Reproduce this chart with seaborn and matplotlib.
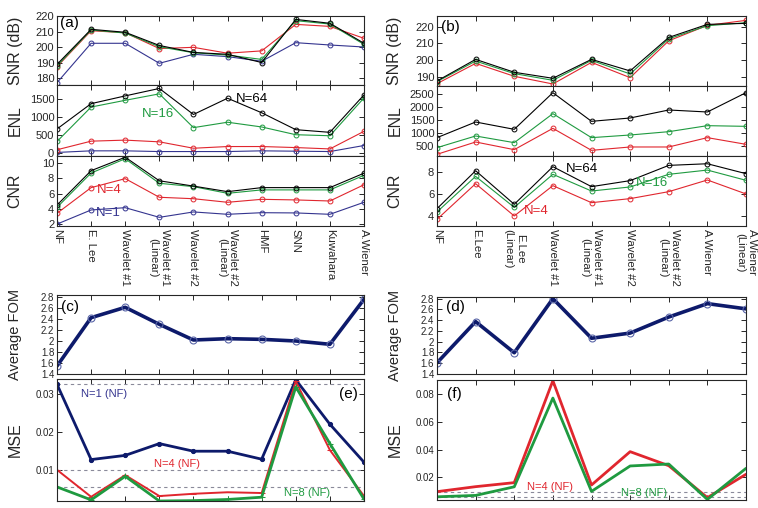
import numpy as np
import pandas as pd
import seaborn as sns
import matplotlib.pyplot as plt

# ─── Data: left column (a, c, e) ─────────────────────────────────────
left_labels = ["NF", "E. Lee", "Wavelet #1", "Wavelet #1\n(Linear)", "Wavelet #2",
               "Wavelet #2\n(Linear)", "HMF", "SNN", "Kuwahara", "A.Wiener"]

snr_a_n1  = [177.0, 202.4, 202.4, 189.5, 195.3, 193.8, 190.8, 202.8, 201.3, 200.0]
snr_a_n4  = [187.3, 210.5, 209.2, 199.0, 199.8, 196.0, 197.5, 214.6, 213.3, 205.6]
snr_a_n16 = [187.8, 211.0, 209.0, 200.2, 196.3, 194.8, 192.0, 217.0, 214.8, 201.7]
snr_a_n64 = [188.8, 211.4, 209.5, 201.0, 196.5, 195.3, 190.0, 217.8, 215.3, 202.4]

enl_a_n1  = [5, 50, 50, 30, 30, 30, 50, 40, 30, 200]
enl_a_n4  = [80, 322, 351, 303, 123, 171, 171, 142, 104, 598]
enl_a_n16 = [313, 1281, 1470, 1651, 702, 854, 721, 503, 474, 1537]
enl_a_n64 = [664, 1376, 1594, 1803, 1072, 1528, 1120, 645, 570, 1622]

cnr_a_n1  = [2.0, 3.86, 4.16, 2.89, 3.60, 3.29, 3.50, 3.47, 3.29, 4.87]
cnr_a_n4  = [3.42, 6.80, 7.98, 5.53, 5.34, 4.87, 5.26, 5.18, 5.04, 7.18]
cnr_a_n16 = [4.20, 8.72, 10.6, 7.37, 6.93, 6.05, 6.50, 6.50, 6.50, 8.42]
cnr_a_n64 = [4.50, 9.03, 10.8, 7.70, 7.00, 6.27, 6.80, 6.80, 6.80, 8.70]

fom_c = [1.545, 2.424, 2.612, 2.303, 2.018, 2.042, 2.030, 2.000, 1.940, 2.758]

mse_e_n1 = [0.0325, 0.0127, 0.0138, 0.0169, 0.0149, 0.0149, 0.0128, 0.0337, 0.0220, 0.0120]
mse_e_n4 = [0.0100, 0.0029, 0.0086, 0.0031, 0.0037, 0.0041, 0.0039, 0.0333, 0.0152, 0.0031]
mse_e_n8 = [0.0055, 0.0021, 0.0083, 0.0018, 0.0019, 0.0022, 0.0028, 0.0318, 0.0169, 0.0023]
mse_e_ref = [0.0326, 0.0100, 0.0054]

# ─── Data: right column (b, d, f) ────────────────────────────────────
right_labels = ["NF", "E.Lee", "E.Lee\n(Linear)", "Wavelet #1", "Wavelet #1\n(Linear)",
                "Wavelet #2", "Wavelet #2\n(Linear)", "A.Wiener", "A.Wiener\n(Linear)"]

snr_b_n4  = [186.0, 198.1, 190.4, 185.8, 198.7, 189.6, 211.6, 220.8, 223.8]
snr_b_n16 = [187.2, 199.5, 192.0, 188.0, 199.9, 191.8, 212.8, 220.6, 222.4]
snr_b_n64 = [187.6, 200.5, 192.8, 189.2, 200.5, 193.6, 213.6, 221.4, 222.0]

enl_b_n4  = [180, 654, 359, 1179, 333, 462, 462, 821, 564]
enl_b_n16 = [436, 885, 628, 1744, 821, 923, 1051, 1282, 1256]
enl_b_n64 = [821, 1423, 1141, 2551, 1449, 1577, 1885, 1808, 2551]

cnr_b_n4  = [3.69, 6.96, 4.00, 6.78, 5.22, 5.59, 6.23, 7.30, 6.02]
cnr_b_n16 = [4.37, 7.63, 4.79, 7.82, 6.29, 6.66, 7.82, 8.21, 7.27]
cnr_b_n64 = [4.67, 8.15, 5.07, 8.52, 6.69, 7.24, 8.64, 8.79, 7.88]

fom_d = [1.607, 2.373, 1.795, 2.800, 2.064, 2.160, 2.458, 2.707, 2.610]

mse_f_n4 = [0.0097, 0.0133, 0.0162, 0.0896, 0.0145, 0.0385, 0.0284, 0.0054, 0.0222]
mse_f_n8 = [0.0060, 0.0070, 0.0132, 0.0771, 0.0099, 0.0282, 0.0296, 0.0041, 0.0265]
mse_f_ref = [0.0094, 0.0060]

# ─── Style ───────────────────────────────────────────────────────────
sns.set_style("ticks")
plt.rcParams["font.family"] = ["Liberation Sans", "DejaVu Sans"]
plt.rcParams.update({
    "xtick.direction": "in", "ytick.direction": "in",
    "xtick.top": True, "ytick.right": True,
    "xtick.major.size": 3.5, "ytick.major.size": 3.5,
    "axes.linewidth": 0.8,
})

NAVY, BLUE, RED, GREEN, BLACK = "#0d1a6b", "#34348f", "#e0262e", "#1f9a40", "black"

W, H = 758, 508
fig = plt.figure(figsize=(W / 100, H / 100), dpi=100)


def box(x0, y0, x1, y1):
    return fig.add_axes([x0 / W, 1 - y1 / H, (x1 - x0) / W, (y1 - y0) / H])


def thin(ax, y, color):
    sns.lineplot(x=np.arange(len(y)), y=y, ax=ax, color=color, lw=0.8,
                 marker="o", markersize=3.5, markerfacecolor="none",
                 markeredgecolor=color, markeredgewidth=0.7)


def setup(ax, n, ylim, yticks, ylabel, ylab_size=11.5, tick_size=8, yfmt=None):
    ax.set_xlim(0, n - 1)
    ax.set_xticks(np.arange(n))
    ax.set_xticklabels([])
    ax.set_ylim(*ylim)
    ax.set_yticks(yticks)
    if yfmt:
        ax.set_yticklabels([yfmt(v) for v in yticks])
    ax.tick_params(labelsize=tick_size, width=0.7, pad=2)
    ax.set_xlabel("")
    ax.set_ylabel(ylabel, fontsize=ylab_size)
    ax.yaxis.label.set_verticalalignment("center")
    # all y labels sit on one vertical line, ~42 px left of the axes
    ax.yaxis.set_label_coords(-42 / ax.bbox.width * (fig.dpi / 100), 0.5)


def fmt_g(v):
    return f"{v:g}"


# ─── Left column ─────────────────────────────────────────────────────
nl = len(left_labels)
ax = box(57, 16, 364, 85)
for ys, c in [(snr_a_n1, BLUE), (snr_a_n4, RED), (snr_a_n16, GREEN), (snr_a_n64, BLACK)]:
    thin(ax, ys, c)
setup(ax, nl, (175.5, 220), [180, 190, 200, 210, 220], "SNR (dB)")

ax = box(57, 85, 364, 156)
for ys, c in [(enl_a_n1, BLUE), (enl_a_n4, RED), (enl_a_n16, GREEN), (enl_a_n64, BLACK)]:
    thin(ax, ys, c)
setup(ax, nl, (-95, 1900), [0, 500, 1000, 1500], "ENL")

ax = box(57, 156, 364, 226)
for ys, c in [(cnr_a_n1, BLUE), (cnr_a_n4, RED), (cnr_a_n16, GREEN), (cnr_a_n64, BLACK)]:
    thin(ax, ys, c)
setup(ax, nl, (1.75, 10.96), [2, 4, 6, 8, 10], "CNR")
ax.set_xticklabels(left_labels, rotation=270, fontsize=8.2, va="top", ha="center")

ax = box(57, 295, 364, 374)
sns.lineplot(x=np.arange(nl), y=fom_c, ax=ax, color=NAVY, lw=2.6, marker="o",
             markersize=5, markerfacecolor="none", markeredgecolor="#5a66a8",
             markeredgewidth=0.8)
setup(ax, nl, (1.4, 2.836), np.round(np.arange(1.4, 2.81, 0.2), 1), "Average FOM",
      ylab_size=10.5, tick_size=7, yfmt=fmt_g)

ax = box(57, 379, 364, 501)
for v in mse_e_ref:
    ax.axhline(v, color="#8a8a9a", ls=(0, (3, 3)), lw=0.8)
sns.lineplot(x=np.arange(nl), y=mse_e_n1, ax=ax, color=NAVY, lw=2.0, marker="o",
             markersize=3, markeredgecolor=NAVY)
sns.lineplot(x=np.arange(nl), y=mse_e_n4, ax=ax, color=RED, lw=1.4, marker="_",
             markersize=5, markeredgecolor=RED)
sns.lineplot(x=np.arange(nl), y=mse_e_n8, ax=ax, color=GREEN, lw=2.0, marker="+",
             markersize=4, markeredgecolor=GREEN)
setup(ax, nl, (0.0018, 0.0339), [0.01, 0.02, 0.03], "MSE", ylab_size=11.5, tick_size=7,
      yfmt=fmt_g)

# ─── Right column ────────────────────────────────────────────────────
nr = len(right_labels)
ax = box(437, 16, 746, 86)
for ys, c in [(snr_b_n4, RED), (snr_b_n16, GREEN), (snr_b_n64, BLACK)]:
    thin(ax, ys, c)
setup(ax, nr, (184.6, 226.4), [190, 200, 210, 220], "SNR (dB)")

ax = box(437, 86, 746, 156)
for ys, c in [(enl_b_n4, RED), (enl_b_n16, GREEN), (enl_b_n64, BLACK)]:
    thin(ax, ys, c)
setup(ax, nr, (115, 2808), [500, 1000, 1500, 2000, 2500], "ENL")

ax = box(437, 156, 746, 226)
for ys, c in [(cnr_b_n4, RED), (cnr_b_n16, GREEN), (cnr_b_n64, BLACK)]:
    thin(ax, ys, c)
setup(ax, nr, (3.08, 9.5), [4, 6, 8], "CNR")
ax.set_xticklabels(right_labels, rotation=270, fontsize=8.2, va="top", ha="center")

ax = box(437, 297, 746, 374)
sns.lineplot(x=np.arange(nr), y=fom_d, ax=ax, color=NAVY, lw=2.6, marker="o",
             markersize=5, markerfacecolor="none", markeredgecolor="#5a66a8",
             markeredgewidth=0.8)
setup(ax, nr, (1.4, 2.83), np.round(np.arange(1.4, 2.81, 0.2), 1), "Average FOM",
      ylab_size=10.5, tick_size=7, yfmt=fmt_g)

ax = box(437, 380, 746, 500)
for v in mse_f_ref:
    ax.axhline(v, color="#8a8a9a", ls=(0, (3, 3)), lw=0.8)
sns.lineplot(x=np.arange(nr), y=mse_f_n4, ax=ax, color=RED, lw=2.0)
sns.lineplot(x=np.arange(nr), y=mse_f_n8, ax=ax, color=GREEN, lw=2.0)
setup(ax, nr, (0.0037, 0.0901), [0.02, 0.04, 0.06, 0.08], "MSE", ylab_size=11.5,
      tick_size=7, yfmt=fmt_g)

# ─── Annotations ─────────────────────────────────────────────────────
def label(x, y, s, color="black", size=9.5, ha="left"):
    fig.text(x / W, 1 - y / H, s, color=color, fontsize=size, ha=ha, va="center")


label(60, 23, "(a)", size=11)
label(441, 27, "(b)", size=11)
label(61, 307, "(c)", size=11)
label(446, 307, "(d)", size=11)
label(339, 394, "(e)", size=11)
label(447, 394, "(f)", size=11)

label(236, 99, "N=64")
label(142, 114, "N=16", GREEN)
label(97, 190, "N=4", RED)
label(96, 213, "N=1", BLUE)

label(566, 169, "N=64")
label(636, 183, "N=16", GREEN)
label(524, 211, "N=4", RED)

label(81, 394, "N=1 (NF)", BLUE, size=8)
label(154, 464, "N=4 (NF)", RED, size=8)
label(284, 493, "N=8 (NF)", GREEN, size=8)
label(527, 487, "N=4 (NF)", RED, size=8)
label(621, 493, "N=8 (NF)", GREEN, size=8)

fig.savefig("out.png", dpi=100)
